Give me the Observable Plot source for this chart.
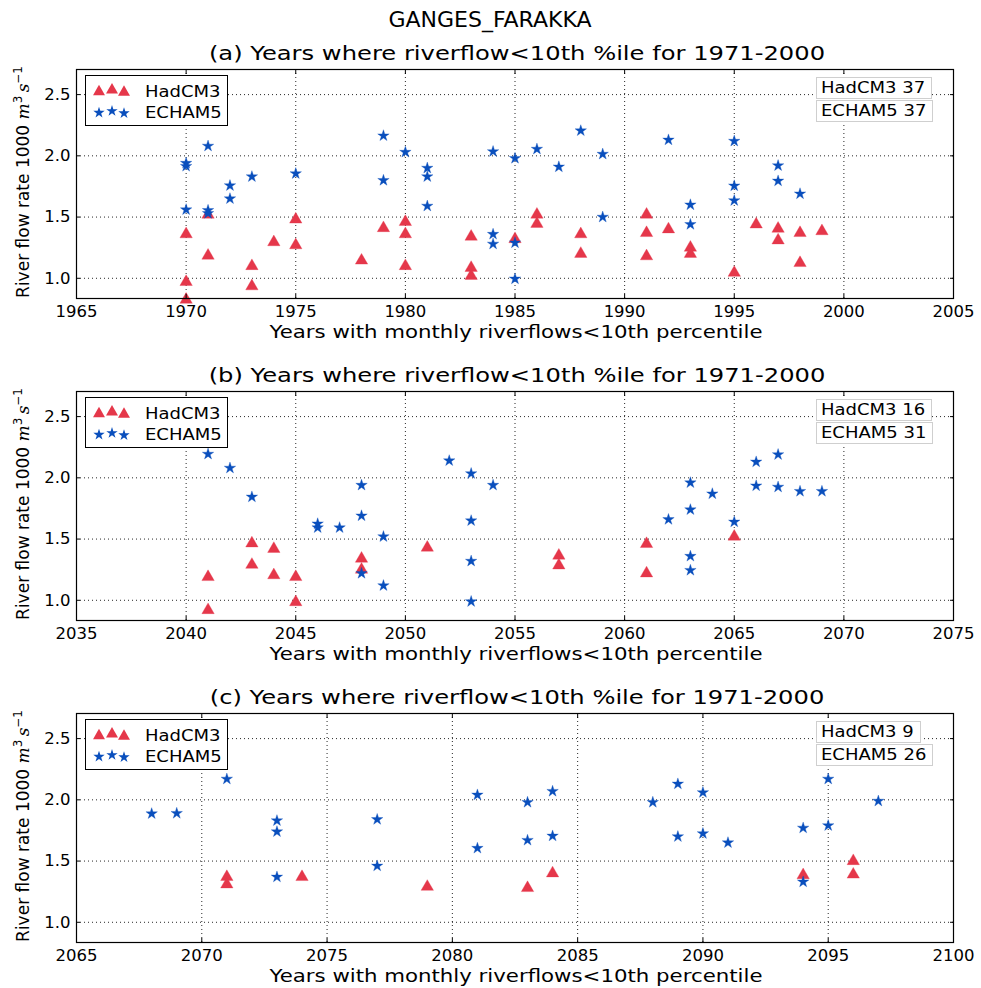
<!DOCTYPE html>
<html>
<head>
<meta charset="utf-8">
<script src="https://cdn.jsdelivr.net/npm/d3@7"></script>
<script src="https://cdn.jsdelivr.net/npm/@observablehq/plot@0.6"></script>
<style>
  body { margin: 0; background: #fff; font-family: "DejaVu Sans", sans-serif; }
  #fig { position: relative; width: 981px; height: 988px; overflow: hidden; background: #fff; }
  .t { position: absolute; white-space: nowrap; color: #000; transform-origin: center center; }
  .count { position: absolute; white-space: nowrap; border: 1px solid #cfcfcf; background: #fff;
           font-size: 15px; line-height: 20px; padding: 0 4px; }
  .legend { position: absolute; border: 1px solid #000; background: #fff; }
  .plot { position: absolute; left: 0; }
  .ylab i { font-family: "DejaVu Serif", serif; font-style: italic; }
  .ylab sup { font-size: 0.7em; }
</style>
</head>
<body>
<div id="fig"></div>
<script>
// Years (x) and flows (1000 m3/s) below the 10th percentile, per model and period
const had1971Years = [1970,1970,1970,1971,1971,1973,1973,1974,1975,1975,1978,1979,1980,1980,1980,1983,1983,1983,1985,1986,1986,1988,1988,1991,1991,1991,1992,1993,1993,1995,1996,1997,1997,1998,1998,1999];
const had1971Flow  = [1.36,0.97,0.825,1.52,1.185,1.10,0.935,1.295,1.48,1.27,1.145,1.41,1.46,1.36,1.10,1.34,1.085,1.02,1.32,1.52,1.445,1.36,1.20,1.52,1.37,1.18,1.40,1.25,1.20,1.045,1.44,1.405,1.31,1.37,1.125,1.385];
const ech1971Years = [1970,1970,1970,1971,1971,1971,1972,1972,1973,1975,1979,1979,1980,1981,1981,1981,1984,1984,1984,1985,1985,1985,1986,1987,1988,1989,1989,1992,1993,1993,1995,1995,1995,1997,1997,1998];
const ech1971Flow  = [1.94,1.915,1.56,2.08,1.555,1.53,1.757,1.65,1.83,1.855,2.164,1.80,2.03,1.90,1.83,1.59,2.035,1.36,1.28,1.98,1.29,0.995,2.055,1.91,2.205,2.014,1.50,2.13,1.60,1.44,2.12,1.755,1.635,1.92,1.795,1.69];

const had2040Years = [2041,2041,2043,2043,2044,2044,2045,2045,2048,2048,2051,2057,2057,2061,2061,2065];
const had2040Flow  = [1.19,0.92,1.465,1.29,1.42,1.205,1.19,0.985,1.34,1.25,1.43,1.365,1.285,1.46,1.22,1.52];
const ech2040Years = [2041,2042,2043,2046,2046,2047,2048,2048,2048,2049,2049,2052,2053,2053,2053,2053,2054,2062,2063,2063,2063,2063,2064,2065,2066,2066,2067,2067,2068,2069];
const ech2040Flow  = [2.194,2.08,1.844,1.625,1.593,1.593,1.94,1.69,1.22,1.52,1.12,2.14,2.035,1.65,1.32,0.99,1.94,1.66,1.96,1.74,1.36,1.245,1.87,1.64,2.13,1.935,2.19,1.925,1.89,1.89];

const had2080Years = [2071,2071,2074,2079,2083,2084,2094,2096,2096];
const had2080Flow  = [1.37,1.31,1.37,1.29,1.28,1.40,1.385,1.50,1.39];
const ech2080Years = [2068,2069,2071,2073,2073,2073,2077,2077,2081,2081,2083,2083,2084,2084,2088,2089,2089,2090,2090,2091,2094,2094,2095,2095,2097];
const ech2080Flow  = [1.887,1.89,2.17,1.83,1.74,1.37,1.84,1.46,2.04,1.605,1.98,1.67,2.07,1.705,1.98,2.13,1.70,2.06,1.725,1.65,1.77,1.33,2.17,1.79,1.99];

// Axis ticks and labels
const yTicks = [1.0, 1.5, 2.0, 2.5];
const xTicks1971 = [1965,1970,1975,1980,1985,1990,1995,2000,2005];
const xTicks2040 = [2035,2040,2045,2050,2055,2060,2065,2070,2075];
const xTicks2080 = [2065,2070,2075,2080,2085,2090,2095,2100];
const panelTitles = ["(a) Years where riverflow<10th %ile for 1971-2000",
                     "(b) Years where riverflow<10th %ile for 1971-2000",
                     "(c) Years where riverflow<10th %ile for 1971-2000"];
const hadCounts = [37, 16, 9];
const echCounts = [37, 31, 26];
const seriesNames = ["HadCM3", "ECHAM5"];
const figTitle = "GANGES_FARAKKA";
const xLabel = "Years with monthly riverflows<10th percentile";

const RED = "#e5374a";
const BLUE = "#0a4fbd";
const Y_DOMAIN = [0.835, 2.705];

const fig = document.getElementById("fig");

function addText(str, x, y, size, sx = 1, extra = {}) {
  const d = document.createElement("div");
  d.className = "t";
  d.textContent = str;
  d.style.fontSize = size + "px";
  d.style.left = x + "px";
  d.style.top = y + "px";
  d.style.transform = `translate(-50%,-50%) scaleX(${sx})`;
  Object.assign(d.style, extra);
  fig.appendChild(d);
  return d;
}

function legend(left, top) {
  const w = 141, h = 49;
  const box = document.createElement("div");
  box.className = "legend";
  Object.assign(box.style, {left: left + "px", top: top + "px", width: w + "px", height: h + "px"});
  const svg = d3.create("svg").attr("width", w).attr("height", h);
  const rows = [
    {name: seriesNames[0], sym: d3.symbolTriangle, size: 62, fill: RED, cy: 15},
    {name: seriesNames[1], sym: d3.symbolStar, size: 40, fill: BLUE, cy: 36}
  ];
  const xs = [13, 26, 38], dys = [0.7, -1, 1.2];
  for (const r of rows) {
    xs.forEach((x, i) => svg.append("path")
      .attr("d", d3.symbol(r.sym, r.size)())
      .attr("transform", `translate(${x},${r.cy + dys[i]})`)
      .attr("fill", r.fill));
    svg.append("text").attr("x", 59).attr("y", r.cy + 6)
      .attr("font-family", "DejaVu Sans").attr("font-size", 15)
      .attr("transform", `translate(59,0) scale(1.2,1) translate(-59,0)`)
      .text(r.name);
  }
  box.appendChild(svg.node());
  fig.appendChild(box);
}

function counts(left, top, i) {
  [[seriesNames[0], hadCounts[i]], [seriesNames[1], echCounts[i]]].forEach(([n, c], k) => {
    const d = document.createElement("div");
    d.className = "count";
    d.style.left = left + "px";
    d.style.top = (top + k * 23) + "px";
    const s = document.createElement("span");
    s.textContent = `${n} ${c}`;
    s.style.display = "inline-block";
    s.style.transform = "scaleX(1.2)";
    s.style.transformOrigin = "left center";
    d.appendChild(s);
    fig.appendChild(d);
    d.style.width = (s.getBoundingClientRect().width + 2) + "px";
  });
}

function panel(i, hadYears, hadFlow, echYears, echFlow, xTicks, frameTop) {
  const had = hadYears.map((x, k) => ({x, y: hadFlow[k]}));
  const ech = echYears.map((x, k) => ({x, y: echFlow[k]}));
  const mt = 2, mb = 28;
  const chart = Plot.plot({
    width: 981,
    height: 229 + mt + mb,
    marginLeft: 76, marginRight: 28, marginTop: mt, marginBottom: mb,
    x: {domain: [xTicks[0], xTicks[xTicks.length - 1]], label: null},
    y: {domain: Y_DOMAIN, label: null},
    style: {fontFamily: "DejaVu Sans", fontSize: "16.5px", color: "black", background: "transparent", overflow: "visible"},
    marks: [
      Plot.gridX(xTicks, {stroke: "black", strokeOpacity: 0.85, strokeDasharray: "1,3"}),
      Plot.gridY(yTicks, {stroke: "black", strokeOpacity: 0.85, strokeDasharray: "1,3"}),
      Plot.dot(had, {x: "x", y: "y", symbol: "triangle", r: 4.6, fill: RED, stroke: RED, strokeOpacity: 0.4, strokeWidth: 0.8}),
      Plot.dot(ech, {x: "x", y: "y", symbol: "star", r: 3.6, fill: BLUE, stroke: BLUE, strokeOpacity: 0.4, strokeWidth: 0.8}),
      Plot.axisX(xTicks, {anchor: "bottom", tickSize: -4, tickFormat: () => "", label: null}),
      Plot.axisX(xTicks, {anchor: "top", tickSize: -4, tickFormat: () => "", label: null}),
      Plot.axisY(yTicks, {anchor: "left", tickSize: -4, tickFormat: () => "", label: null}),
      Plot.axisY(yTicks, {anchor: "right", tickSize: -4, tickFormat: () => "", label: null}),
      Plot.axisX(xTicks, {anchor: "bottom", tickSize: 0, tickPadding: 7, tickFormat: "d", label: null}),
      Plot.axisY(yTicks, {anchor: "left", tickSize: 0, tickPadding: 6, tickFormat: ".1f", label: null}),
      Plot.frame({stroke: "black", strokeWidth: 1.2})
    ]
  });
  chart.classList.add("plot");
  chart.style.top = (frameTop - mt) + "px";
  fig.appendChild(chart);

  // titles and labels
  addText(panelTitles[i], 517, frameTop - 16, 20, 1.21);
  addText(xLabel, 516, frameTop + 262, 18.5, 1.15);
  const yl = document.createElement("div");
  yl.className = "t ylab";
  yl.innerHTML = "River flow rate 1000 <i>m</i><sup>3</sup>&#8201;<i>s</i><sup>−1</sup>";
  yl.style.fontSize = "17px";
  yl.style.left = "22px";
  yl.style.top = (frameTop + 113) + "px";
  yl.style.transform = "translate(-50%,-50%) rotate(-90deg)";
  fig.appendChild(yl);

  legend(85, frameTop + 6);
  counts(816, frameTop + 8, i);
}

addText(figTitle, 490, 19, 22, 1);
panel(0, had1971Years, had1971Flow, ech1971Years, ech1971Flow, xTicks1971, 69);
panel(1, had2040Years, had2040Flow, ech2040Years, ech2040Flow, xTicks2040, 391);
panel(2, had2080Years, had2080Flow, ech2080Years, ech2080Flow, xTicks2080, 713);
</script>
</body>
</html>
